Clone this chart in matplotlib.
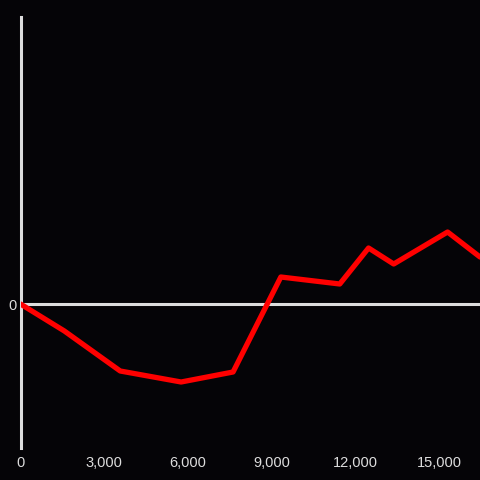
import matplotlib
matplotlib.use('Agg')
import matplotlib.pyplot as plt

# Data (y in arbitrary units, zero line at 0)
x_vals = [0, 1570, 3570, 5750, 7610, 9320, 11430, 12460, 13360, 15290, 16450]
y_vals = [0, -27, -67, -78, -68, 27, 20, 56, 40, 72, 47]
x_ticks = [0, 3000, 6000, 9000, 12000, 15000]
x_labels = ['0', '3,000', '6,000', '9,000', '12,000', '15,000']

bg = '#050407'
axis_col = '#dddddd'

plt.rcParams['font.family'] = ['Liberation Sans', 'DejaVu Sans']

fig = plt.figure(figsize=(4.8, 4.8), dpi=100, facecolor=bg)
ax = fig.add_axes([20.5 / 480, 32 / 480, 1 - 20.5 / 480, 431 / 480])
ax.set_facecolor(bg)

ax.plot(x_vals, y_vals, color='#ff0000', linewidth=3.8,
        solid_joinstyle='round', solid_capstyle='round', zorder=3)
ax.axhline(0, color=axis_col, linewidth=2.2, zorder=2)

ax.set_xlim(0, 16450)
ax.set_ylim(-144, 287)

for side in ['top', 'right', 'bottom']:
    ax.spines[side].set_visible(False)
ax.spines['left'].set_color(axis_col)
ax.spines['left'].set_linewidth(2.2)

ax.set_xticks(x_ticks)
ax.set_xticklabels(x_labels)
ax.set_yticks([0])
ax.set_yticklabels(['0'])
ax.tick_params(axis='both', length=0, colors=axis_col, labelsize=10.5)
ax.tick_params(axis='x', pad=6)
ax.tick_params(axis='y', pad=3)

fig.savefig('out.png', dpi=100, facecolor=bg)
